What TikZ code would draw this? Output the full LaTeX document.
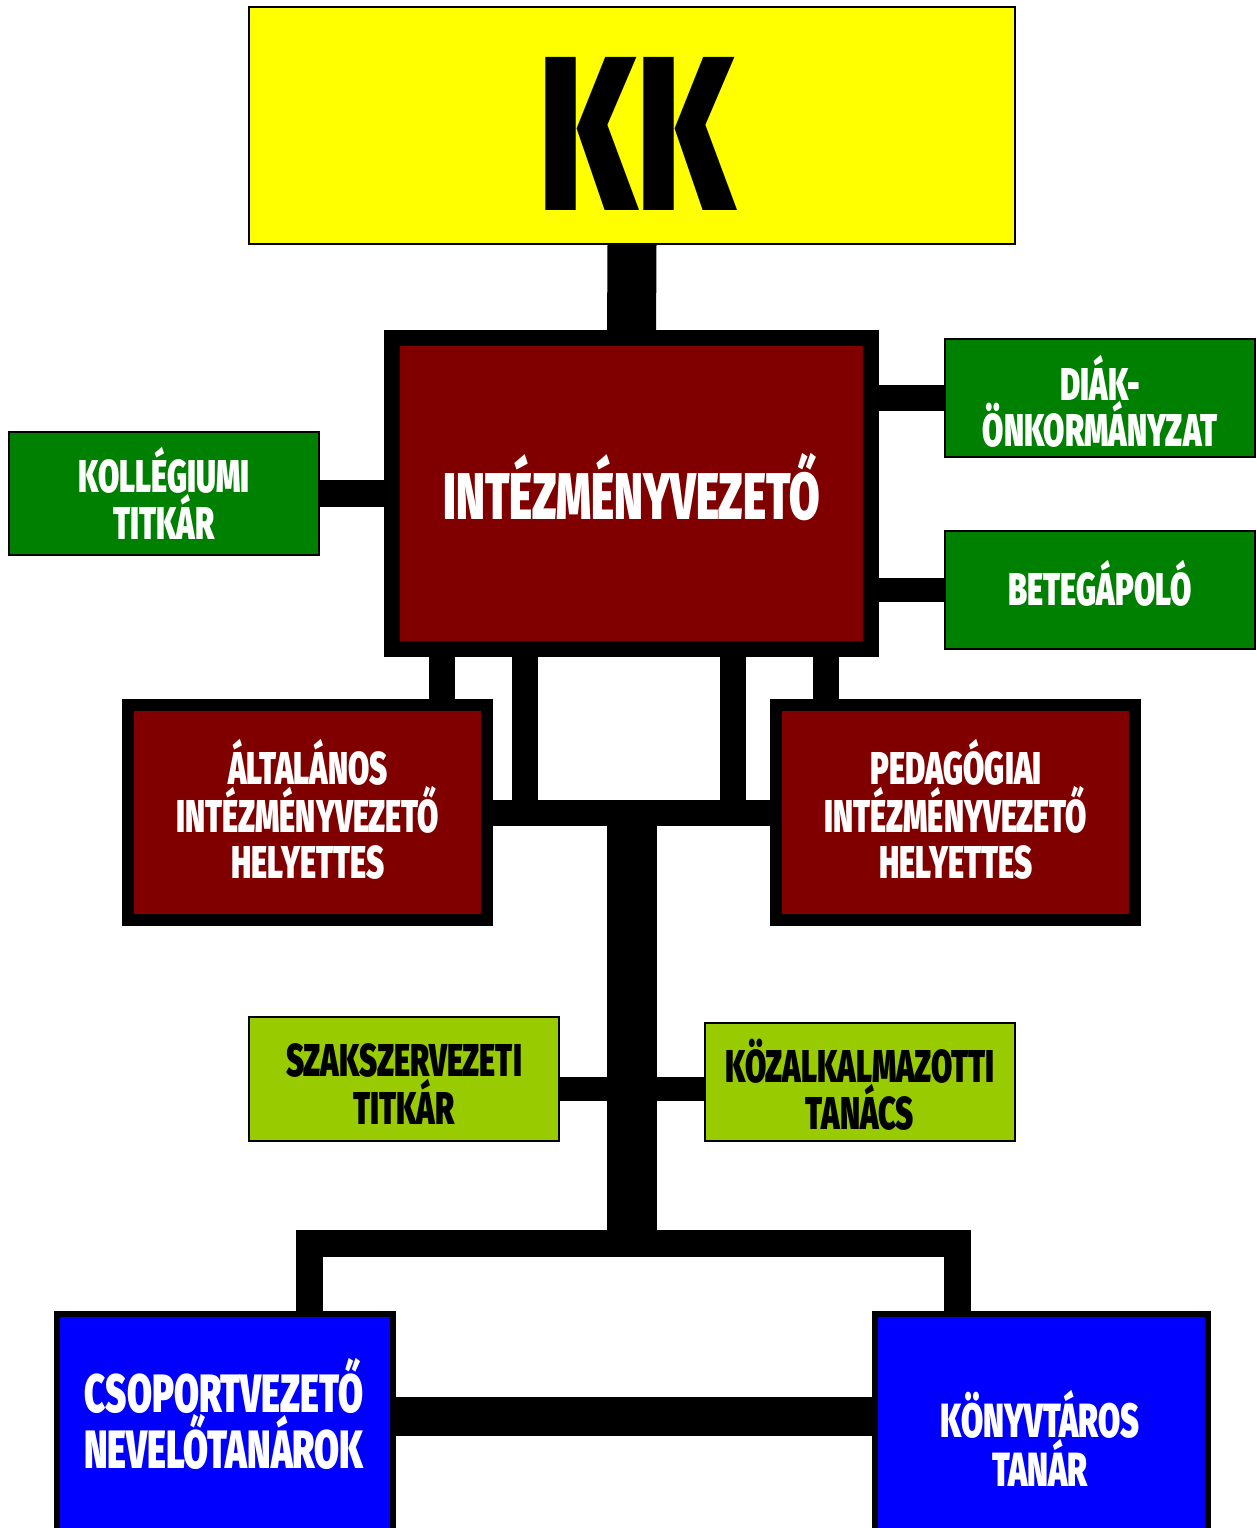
\documentclass[tikz,border=0pt]{standalone}
\usepackage{fontspec}
\newfontfamily\imp{Fira Sans Black}[FakeStretch=0.67]
\definecolor{kkyellow}{HTML}{FFFF00}
\definecolor{maroon}{HTML}{800000}
\definecolor{dgreen}{HTML}{008000}
\definecolor{lime}{HTML}{99CC00}
\definecolor{pblue}{HTML}{0000FF}
\tikzset{
  box/.style={draw=black, inner sep=0pt, outer sep=0pt, align=center},
  thinbox/.style={box, line width=2pt},
  lbl/.style={inner sep=0pt, outer sep=0pt, align=center, font=\imp\fontsize{46}{46}\selectfont},
  biglbl/.style={inner sep=0pt, outer sep=0pt, align=center, font=\imp\fontsize{54}{50}\selectfont, text=white},
  bar/.style={draw=black, line cap=butt}
}
\begin{document}
\begin{tikzpicture}[x=1pt,y=-1pt]
\useasboundingbox (0,0) rectangle (1256,1528);
\clip (0,0) rectangle (1256,1528);
\fill[white] (0,0) rectangle (1256,1528);

% boxes
\node[thinbox, fill=kkyellow, minimum width=766pt, minimum height=237pt] (kk) at (632,125.5) {};
\node[inner sep=0pt, font=\imp\fontsize{220}{220}\selectfont] (kkt) at (637,134) {KK};

\node[box, fill=maroon, line width=16pt, minimum width=479pt, minimum height=311pt] (iv) at (631.5,493.5) {};
\node[inner sep=0pt, text=white, font=\imp\fontsize{66}{66}\selectfont] (ivt) at (631.5,487) {INTÉZMÉNYVEZETŐ};

\node[thinbox, fill=dgreen, minimum width=310pt, minimum height=123pt] (kol) at (164,493.5) {};
\node[lbl, text=white] (kolt) at (kol) {KOLLÉGIUMI\\TITKÁR};

\node[thinbox, fill=dgreen, minimum width=310pt, minimum height=118pt] (diak) at (1100,398) {};
\node[lbl, text=white] (diakt) at (1100,401) {DIÁK-\\ÖNKORMÁNYZAT};

\node[thinbox, fill=dgreen, minimum width=310pt, minimum height=118pt] (bet) at (1100,590) {};
\node[lbl, text=white] (bett) at (1100,583) {BETEGÁPOLÓ};

\node[box, fill=maroon, line width=12pt, minimum width=359pt, minimum height=215pt] (alt) at (307.5,812.5) {};
\node[lbl, text=white] (altt) at (308,809) {ÁLTALÁNOS\\INTÉZMÉNYVEZETŐ\\HELYETTES};

\node[box, fill=maroon, line width=12pt, minimum width=359pt, minimum height=215pt] (ped) at (955.5,812.5) {};
\node[lbl, text=white] (pedt) at (956,809) {PEDAGÓGIAI\\INTÉZMÉNYVEZETŐ\\HELYETTES};

\node[thinbox, fill=lime, minimum width=310pt, minimum height=124pt] (szak) at (404,1079) {};
\node[lbl, text=black] (szakt) at (404,1084) {SZAKSZERVEZETI\\TITKÁR};

\node[thinbox, fill=lime, minimum width=310pt, minimum height=118pt] (koz) at (860,1082) {};
\node[lbl, text=black] (kozt) at (860,1085) {KÖZALKALMAZOTTI\\TANÁCS};

\node[box, fill=pblue, line width=6pt, minimum width=336pt, minimum height=286pt] (csop) at (225,1457) {};
\node[biglbl] (csopt) at (224,1414) {CSOPORTVEZETŐ\\NEVELŐTANÁROK};

\node[box, fill=pblue, line width=6pt, minimum width=333pt, minimum height=286pt] (kony) at (1041.5,1457) {};
\node[biglbl, font=\imp\fontsize{48}{46}\selectfont] (konyt) at (1040,1438) {KÖNYVTÁROS\\TANÁR};

% helper coordinates
\coordinate (a1) at (442,0);
\coordinate (a2) at (525,0);
\coordinate (b1) at (733,0);
\coordinate (b2) at (826,0);
\coordinate (sk) at (0,1089);
\coordinate (bb) at (0,1243.5);
\coordinate (l1) at (309,0);
\coordinate (r1) at (957,0);
\coordinate (bc) at (0,1416.5);

% connectors
\draw[bar, line width=49pt] (kk.south) -- (iv.north);
\draw[bar, line width=27pt] (kol.east) -- (iv.west);
\draw[bar, line width=26pt] (diak.west) -- (diak.west -| iv.east);
\draw[bar, line width=24pt] (bet.west) -- (bet.west -| iv.east);
\draw[bar, line width=26pt] (a1 |- iv.south) -- (a1 |- alt.north);
\draw[bar, line width=26pt] (b2 |- iv.south) -- (b2 |- ped.north);
\draw[bar, line width=26pt] (a2 |- iv.south) -- (a2 |- alt.east);
\draw[bar, line width=26pt] (b1 |- iv.south) -- (b1 |- ped.west);
\draw[bar, line width=26pt] (alt.east) -- (ped.west);
\draw[bar, line width=50pt] (iv.south |- alt.east) -- (iv.south |- bb);
\draw[bar, line width=24pt] (szak.east |- sk) -- (iv.south |- sk);
\draw[bar, line width=24pt] (iv.south |- sk) -- (koz.west |- sk);
\draw[bar, line width=27pt] (l1 |- csop.north) -- (l1 |- bb) -- (r1 |- bb) -- (r1 |- kony.north);
\draw[bar, line width=39pt] (csop.east |- bc) -- (kony.west |- bc);
\end{tikzpicture}
\end{document}
